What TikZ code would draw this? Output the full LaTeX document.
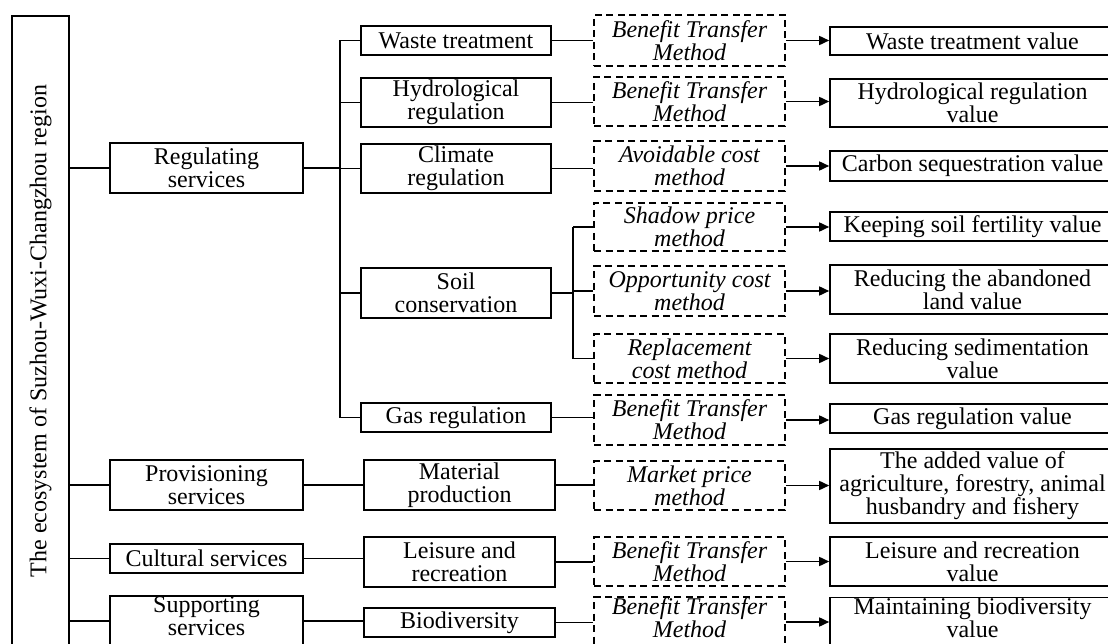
\documentclass[tikz,border=0pt]{standalone}
\usepackage{fontspec}
\setmainfont{Liberation Serif}
\usetikzlibrary{arrows.meta}
\begin{document}
\begin{tikzpicture}[x=1pt,y=-1pt,
 box/.style={draw,line width=1.6pt,inner sep=0pt,align=center,font=\fontsize{24}{23}\selectfont},
 mbox/.style={box,dash pattern=on 7pt off 4.5pt,font=\fontsize{24}{23}\selectfont\itshape},
 ln/.style={line width=1.6pt},
 arr/.style={ln,-{Triangle[length=10pt,width=9pt]}}]
\useasboundingbox (0,0) rectangle (1108,644);
\clip (0,0) rectangle (1108,644);
% left
\node[box,rotate=90,minimum width=630pt,minimum height=57pt] (eco) at (40.5,331) {The ecosystem of Suzhou-Wuxi-Changzhou region};
% services
\node[box,minimum width=193pt,minimum height=50pt] (reg) at (206.5,168) {Regulating\\services};
\node[box,minimum width=193pt,minimum height=50pt] (prov) at (206.5,485) {Provisioning\\services};
\node[box,minimum width=193pt,minimum height=29pt] (cult) at (206.5,558.5) {Cultural services};
\node[box,minimum width=193pt,minimum height=50pt,text depth=9pt] (supp) at (206.5,621) {Supporting\\services};
% sub services
\node[box,minimum width=190pt,minimum height=29pt] (waste) at (456,40.5) {Waste treatment};
\node[box,minimum width=190pt,minimum height=49pt] (hydro) at (456,102.5) {Hydrological\\regulation};
\node[box,minimum width=190pt,minimum height=49pt] (clim) at (456,168.5) {Climate\\regulation};
\node[box,minimum width=190pt,minimum height=50pt] (soil) at (456,293) {Soil\\conservation};
\node[box,minimum width=190pt,minimum height=29pt] (gasr) at (456,417.5) {Gas regulation};
\node[box,minimum width=191pt,minimum height=50pt] (mat) at (459.5,485) {Material\\production};
\node[box,minimum width=191pt,minimum height=50pt] (leis) at (459.5,562) {Leisure and\\recreation};
\node[box,minimum width=191pt,minimum height=29pt] (bio) at (459.5,622.5) {Biodiversity};
% methods
\node[mbox,minimum width=191pt,minimum height=51pt] (m1) at (689.5,40.5) {Benefit Transfer\\Method};
\node[mbox,minimum width=191pt,minimum height=49pt] (m2) at (689.5,101.5) {Benefit Transfer\\Method};
\node[mbox,minimum width=191pt,minimum height=50pt] (m3) at (689.5,166) {Avoidable cost\\method};
\node[mbox,minimum width=191pt,minimum height=48pt] (m4) at (689.5,227) {Shadow price\\method};
\node[mbox,minimum width=191pt,minimum height=50pt] (m5) at (689.5,291) {Opportunity cost\\method};
\node[mbox,minimum width=191pt,minimum height=49pt] (m6) at (689.5,358.5) {Replacement\\cost method};
\node[mbox,minimum width=191pt,minimum height=50pt] (m7) at (689.5,420) {Benefit Transfer\\Method};
\node[mbox,minimum width=191pt,minimum height=49pt] (m8) at (689.5,485.5) {Market price\\method};
\node[mbox,minimum width=191pt,minimum height=49pt] (m9) at (689.5,561.5) {Benefit Transfer\\Method};
\node[mbox,minimum width=191pt,minimum height=50pt,text depth=9pt] (m10) at (689.5,622) {Benefit Transfer\\Method};
% results
\node[box,minimum width=285pt,minimum height=28pt] (r1) at (972.5,41) {Waste treatment value};
\node[box,minimum width=285pt,minimum height=48pt] (r2) at (972.5,103) {Hydrological regulation\\value};
\node[box,minimum width=285pt,minimum height=30pt] (r3) at (972.5,166) {Carbon sequestration value};
\node[box,minimum width=285pt,minimum height=29pt] (r4) at (972.5,226.5) {Keeping soil fertility value};
\node[box,minimum width=285pt,minimum height=49pt] (r5) at (972.5,289.5) {Reducing the abandoned\\land value};
\node[box,minimum width=285pt,minimum height=49pt] (r6) at (972.5,358.5) {Reducing sedimentation\\value};
\node[box,minimum width=285pt,minimum height=29pt] (r7) at (972.5,418.5) {Gas regulation value};
\node[box,minimum width=285pt,minimum height=74pt] (r8) at (972.5,486) {The added value of\\agriculture, forestry, animal\\husbandry and fishery};
\node[box,minimum width=285pt,minimum height=49pt] (r9) at (972.5,561.5) {Leisure and recreation\\value};
\node[box,minimum width=285pt,minimum height=48pt,text depth=9pt] (r10) at (972.5,622) {Maintaining biodiversity\\value};
% eco -> services
\foreach \n in {reg,prov,cult,supp} \draw[ln] (\n.west) -- (\n.west -| eco.south);
% regulating bus
\coordinate (rb) at (340,0);
\draw[ln] (reg.east) -- (reg.east -| rb);
\draw[ln] (rb |- waste) -- (rb |- gasr);
\foreach \n in {waste,hydro,clim,soil,gasr} \draw[ln] (\n.west) -- (\n.west -| rb);
% other services
\draw[ln] (prov.east) -- (prov.east -| mat.west);
\draw[ln] (cult.east) -- (cult.east -| leis.west);
\draw[ln] (supp.east) -- (supp.east -| bio.west);
% sub -> methods
\draw[ln] (waste.east) -- (waste.east -| m1.west);
\draw[ln] (hydro.east) -- (hydro.east -| m2.west);
\draw[ln] (clim.east) -- (clim.east -| m3.west);
\draw[ln] (gasr.east) -- (gasr.east -| m7.west);
\draw[ln] (mat.east) -- (mat.east -| m8.west);
\draw[ln] (leis.east) -- (leis.east -| m9.west);
\draw[ln] (bio.east) -- (bio.east -| m10.west);
% soil bus
\coordinate (sb) at (573,0);
\draw[ln] (soil.east) -- (soil.east -| sb);
\draw[ln] (sb |- m4) -- (sb |- m6);
\foreach \n in {m4,m5,m6} \draw[ln] (\n.west) -- (\n.west -| sb);
% methods -> results
\foreach \a/\b in {m1/r1,m2/r2,m3/r3,m4/r4,m5/r5,m6/r6,m7/r7,m8/r8,m9/r9,m10/r10}
  \draw[arr] (\a.east) -- (\a.east -| \b.west);
\end{tikzpicture}
\end{document}
